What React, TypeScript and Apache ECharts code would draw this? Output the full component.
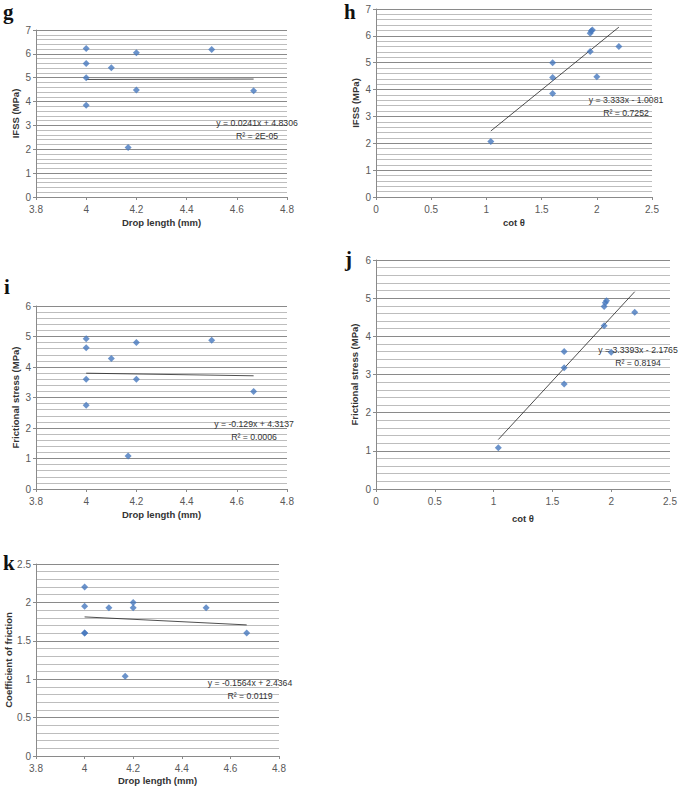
import React, { useEffect, useRef } from "react";
import * as echarts from "echarts";

// ---- data ----
const dropLengthG = [4, 4, 4, 4, 4.1, 4.2, 4.2, 4.167, 4.5, 4.667];
const ifssG = [6.22, 5.6, 5.0, 3.85, 5.42, 6.05, 4.48, 2.07, 6.18, 4.45];

const cotThetaH = [1.96, 2.2, 1.6, 1.6, 1.94, 1.94, 2.0, 1.04, 1.95, 1.6];
const ifssH = [6.22, 5.6, 5.0, 3.85, 5.42, 6.1, 4.48, 2.07, 6.18, 4.45];

const dropLengthI = [4, 4, 4, 4, 4.1, 4.2, 4.2, 4.167, 4.5, 4.667];
const frictionI = [4.93, 4.63, 3.6, 2.75, 4.28, 4.8, 3.6, 1.08, 4.88, 3.2];

const cotThetaJ = [1.04, 1.6, 1.6, 1.6, 1.94, 1.94, 1.95, 1.96, 2.0, 2.2];
const frictionJ = [1.08, 3.6, 3.18, 2.75, 4.78, 4.28, 4.88, 4.93, 3.58, 4.63];

const dropLengthK = [4, 4, 4, 4, 4.1, 4.2, 4.2, 4.167, 4.5, 4.667];
const cofK = [2.2, 1.95, 1.6, 1.6, 1.93, 2.0, 1.93, 1.04, 1.93, 1.6];

// trendline endpoints (x, y) as drawn
const trendG = [[4, 4.927], [4.667, 4.943]];
const trendH = [[1.04, 2.458], [2.2, 6.325]];
const trendI = [[4, 3.797], [4.667, 3.712]];
const trendJ = [[1.04, 1.296], [2.2, 5.17]];
const trendK = [[4, 1.811], [4.667, 1.707]];

const eqG = ["y = 0.0241x + 4.8306", "R² = 2E-05"];
const eqH = ["y = 3.333x - 1.0081", "R² = 0.7252"];
const eqI = ["y = -0.129x + 4.3137", "R² = 0.0006"];
const eqJ = ["y = 3.3393x - 2.1765", "R² = 0.8194"];
const eqK = ["y = -0.1564x + 2.4364", "R² = 0.0119"];

const zip = (xs: number[], ys: number[]) => xs.map((x, i) => [x, ys[i]]);

const FONT = "Liberation Sans";
const MARKER = "#4678BE";

export default function App() {
  const ref = useRef<HTMLDivElement>(null);
  useEffect(() => {
    if (!ref.current) return;
    const chart = echarts.init(ref.current, null, { renderer: "svg" });

    const grids = [
      { left: 36, top: 30, width: 251, height: 167 },
      { left: 376, top: 9, width: 276, height: 188 },
      { left: 36, top: 306, width: 251, height: 183 },
      { left: 376, top: 260, width: 294, height: 229 },
      { left: 36, top: 564, width: 243, height: 192 },
    ];

    const xCfg = [
      { min: 3.8, max: 4.8, interval: 0.2, name: "Drop length (mm)", gap: 20 },
      { min: 0, max: 2.5, interval: 0.5, name: "cot θ", gap: 20 },
      { min: 3.8, max: 4.8, interval: 0.2, name: "Drop length (mm)", gap: 20 },
      { min: 0, max: 2.5, interval: 0.5, name: "cot θ", gap: 24 },
      { min: 3.8, max: 4.8, interval: 0.2, name: "Drop length (mm)", gap: 19 },
    ];
    const yCfg = [
      { min: 0, max: 7, interval: 1, name: "IFSS (MPa)", gap: 16 },
      { min: 0, max: 7, interval: 1, name: "IFSS (MPa)", gap: 16 },
      { min: 0, max: 6, interval: 1, name: "Frictional stress (MPa)", gap: 16 },
      { min: 0, max: 6, interval: 1, name: "Frictional stress (MPa)", gap: 17 },
      { min: 0, max: 2.5, interval: 0.5, name: "Coefficient of friction", gap: 21 },
    ];

    const axisLineStyle = { color: "#8a8a8a", width: 1 };

    const xAxis = xCfg.map((c, i) => ({
      type: "value",
      gridIndex: i,
      min: c.min,
      max: c.max,
      interval: c.interval,
      name: c.name,
      nameLocation: "middle",
      nameGap: c.gap,
      nameTextStyle: { fontFamily: FONT, fontSize: 9.5, fontWeight: "bold", color: "#333" },
      axisLine: { show: true, onZero: false, lineStyle: axisLineStyle },
      axisTick: { show: true, inside: false, length: 3, lineStyle: axisLineStyle },
      axisLabel: { fontFamily: FONT, fontSize: 10, color: "#595959", margin: 7 },
      splitLine: { show: false },
    }));

    const yAxis = yCfg.map((c, i) => ({
      type: "value",
      gridIndex: i,
      min: c.min,
      max: c.max,
      interval: c.interval,
      name: c.name,
      nameLocation: "middle",
      nameRotate: 90,
      nameGap: c.gap,
      nameTextStyle: { fontFamily: FONT, fontSize: 9.5, fontWeight: "bold", color: "#333" },
      axisLine: { show: true, onZero: false, lineStyle: axisLineStyle },
      axisTick: { show: true, inside: false, length: 3, lineStyle: axisLineStyle },
      axisLabel: { fontFamily: FONT, fontSize: 10, color: "#595959", margin: 5 },
      splitLine: { show: true, lineStyle: { color: "#8a8a8a", width: 1 } },
      minorTick: { show: false, splitNumber: 5 },
      minorSplitLine: { show: true, lineStyle: { color: "#bdbdbd", width: 1 } },
    }));

    const scatterSets = [
      zip(dropLengthG, ifssG),
      zip(cotThetaH, ifssH),
      zip(dropLengthI, frictionI),
      zip(cotThetaJ, frictionJ),
      zip(dropLengthK, cofK),
    ];
    const trends = [trendG, trendH, trendI, trendJ, trendK];

    const series: any[] = [];
    scatterSets.forEach((d, i) => {
      series.push({
        type: "scatter",
        xAxisIndex: i,
        yAxisIndex: i,
        data: d,
        symbol: "diamond",
        symbolSize: 7,
        itemStyle: { color: MARKER },
        z: 3,
      });
      series.push({
        type: "line",
        xAxisIndex: i,
        yAxisIndex: i,
        data: trends[i],
        showSymbol: false,
        symbol: "none",
        lineStyle: { color: "#222", width: 0.8 },
        z: 2,
      });
    });

    const eqs = [
      { t: eqG, x: 257, y: 123 },
      { t: eqH, x: 626, y: 100 },
      { t: eqI, x: 254, y: 424 },
      { t: eqJ, x: 638, y: 350 },
      { t: eqK, x: 250, y: 683 },
    ];
    const letters = [
      { t: "g", x: 3, y: 12 },
      { t: "h", x: 344, y: 12 },
      { t: "i", x: 4, y: 287 },
      { t: "j", x: 345, y: 259 },
      { t: "k", x: 3, y: 563 },
    ];

    const graphic: any[] = [];
    eqs.forEach((e) => {
      e.t.forEach((line, k) => {
        graphic.push({
          type: "text",
          x: e.x,
          y: e.y + k * 12.5,
          z: 10,
          style: {
            text: line,
            fontFamily: FONT,
            fontSize: 8.7,
            fill: "#333",
            textAlign: "center",
            textVerticalAlign: "middle",
          },
        });
      });
    });
    letters.forEach((l) => {
      graphic.push({
        type: "text",
        x: l.x,
        y: l.y,
        z: 10,
        style: {
          text: l.t,
          fontFamily: "Liberation Serif",
          fontSize: 21,
          fontWeight: "bold",
          fill: "#111",
          textAlign: "left",
          textVerticalAlign: "middle",
        },
      });
    });

    chart.setOption({
      animation: false,
      backgroundColor: "#ffffff",
      grid: grids,
      xAxis,
      yAxis,
      series,
      graphic,
    } as any);

    return () => chart.dispose();
  }, []);

  return (
    <div
      ref={ref}
      style={{ position: "fixed", left: 0, top: 0, width: 685, height: 786, background: "#fff" }}
    />
  );
}
